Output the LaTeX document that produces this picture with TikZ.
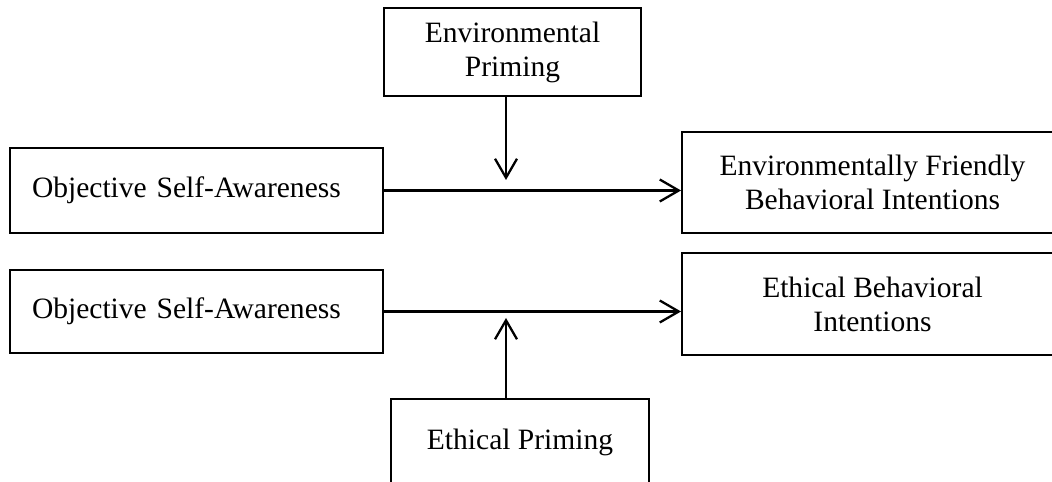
\documentclass[tikz,border=0pt]{standalone}
\usepackage{fontspec}
\setmainfont{Liberation Serif}
\usepackage{tikz}
\usetikzlibrary{shapes,arrows.meta}
\usetikzlibrary{positioning}

\begin{document}
\begin{tikzpicture}[every node/.style={draw,line width=1.1pt,inner sep=0pt,
    align=center,font=\fontsize{16.8}{19.4}\selectfont},
  leftbox/.style={inner xsep=.44cm,text width=6.58cm,align=left},
  link/.style={line width=1.3pt,-{Straight Barb[length=.38cm,width=.44cm,line width=1.3pt]}}]

  \clip (0,0) rectangle (21.04,9.64);

  % priming boxes
  \node (envprime) [minimum width=5.14cm,minimum height=1.76cm] at (10.25,8.6)
    {Environmental\\Priming};
  \node (ethprime) [minimum width=5.16cm,minimum height=1.72cm] at (10.4,.8)
    {Ethical Priming};

  % self-awareness boxes
  \node (osaa) [leftbox,minimum height=1.7cm] at (3.93,5.83)
    {Objective Self-Awareness};
  \node (osab) [leftbox,minimum height=1.66cm] at (3.93,3.41)
    {Objective Self-Awareness};

  % intention boxes
  \node (envint) [minimum width=7.62cm,minimum height=2.02cm] at (17.45,5.99)
    {Environmentally Friendly\\Behavioral Intentions};
  \node (ethint) [minimum width=7.62cm,minimum height=2.04cm] at (17.45,3.56)
    {Ethical Behavioral\\Intentions};

  % main paths
  \draw[link] (osaa.east) -- (osaa.east -| envint.west);
  \draw[link] (osab.east) -- (osab.east -| ethint.west);

  % moderators
  \coordinate (moda) at (10.12,6.04);
  \coordinate (modb) at (10.12,3.28);
  \draw[link] (envprime.south -| moda) -- (moda);
  \draw[link] (ethprime.north -| modb) -- (modb);

\end{tikzpicture}
\end{document}
